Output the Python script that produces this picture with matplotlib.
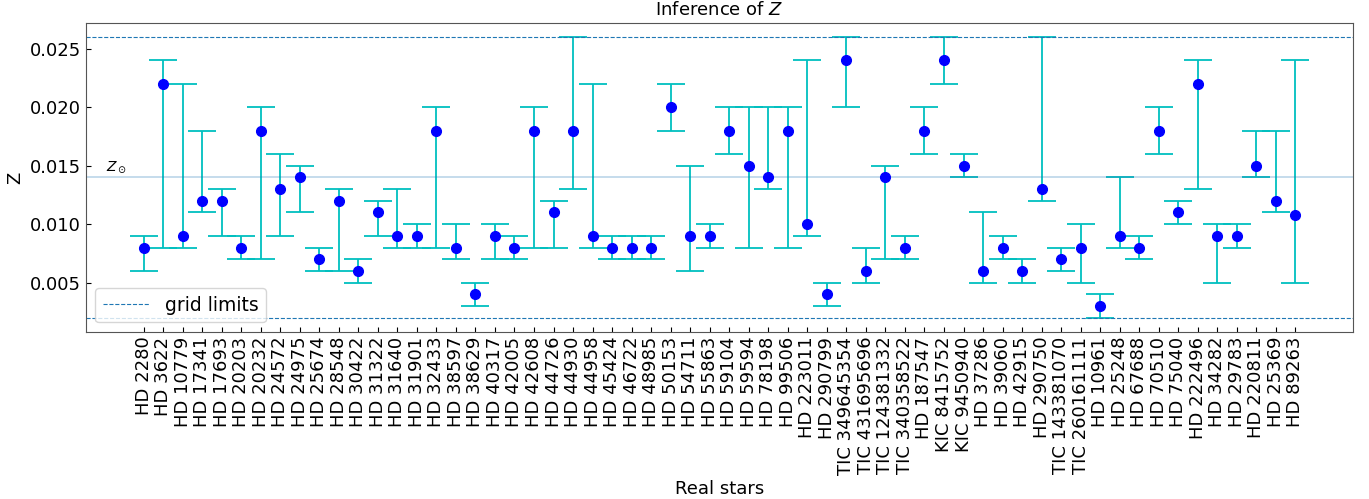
import matplotlib
matplotlib.use('Agg')
import matplotlib.pyplot as plt
import numpy as np

'''
inference of Z for the real stars, with grid limits and solar value
'''

stars = ['HD 2280', 'HD 3622', 'HD 10779', 'HD 17341', 'HD 17693', 'HD 20203',
         'HD 20232', 'HD 24572', 'HD 24975', 'HD 25674', 'HD 28548', 'HD 30422',
         'HD 31322', 'HD 31640', 'HD 31901', 'HD 32433', 'HD 38597', 'HD 38629',
         'HD 40317', 'HD 42005', 'HD 42608', 'HD 44726', 'HD 44930', 'HD 44958',
         'HD 45424', 'HD 46722', 'HD 48985', 'HD 50153', 'HD 54711', 'HD 55863',
         'HD 59104', 'HD 59594', 'HD 78198', 'HD 99506', 'HD 223011', 'HD 290799',
         'TIC 349645354', 'TIC 431695696', 'TIC 124381332', 'TIC 340358522',
         'HD 187547', 'KIC 8415752', 'KIC 9450940', 'HD 37286', 'HD 39060',
         'HD 42915', 'HD 290750', 'TIC 143381070', 'TIC 260161111', 'HD 10961',
         'HD 25248', 'HD 67688', 'HD 70510', 'HD 75040', 'HD 222496', 'HD 34282',
         'HD 29783', 'HD 220811', 'HD 25369', 'HD 89263']

z_best = [0.008, 0.022, 0.009, 0.012, 0.012, 0.008, 0.018, 0.013, 0.014, 0.007,
          0.012, 0.006, 0.011, 0.009, 0.009, 0.018, 0.008, 0.004, 0.009, 0.008,
          0.018, 0.011, 0.018, 0.009, 0.008, 0.008, 0.008, 0.020, 0.009, 0.009,
          0.018, 0.015, 0.014, 0.018, 0.010, 0.004, 0.024, 0.006, 0.014, 0.008,
          0.018, 0.024, 0.015, 0.006, 0.008, 0.006, 0.013, 0.007, 0.008, 0.003,
          0.009, 0.008, 0.018, 0.011, 0.022, 0.009, 0.009, 0.015, 0.012, 0.0108]

z_low = [0.006, 0.008, 0.008, 0.011, 0.009, 0.007, 0.007, 0.009, 0.011, 0.006,
         0.006, 0.005, 0.009, 0.008, 0.008, 0.008, 0.007, 0.003, 0.007, 0.007,
         0.008, 0.008, 0.013, 0.008, 0.007, 0.007, 0.007, 0.018, 0.006, 0.008,
         0.016, 0.008, 0.013, 0.008, 0.009, 0.003, 0.020, 0.005, 0.007, 0.007,
         0.016, 0.022, 0.014, 0.005, 0.007, 0.005, 0.012, 0.006, 0.005, 0.002,
         0.008, 0.007, 0.016, 0.010, 0.013, 0.005, 0.008, 0.014, 0.011, 0.005]

z_high = [0.009, 0.024, 0.022, 0.018, 0.013, 0.009, 0.020, 0.016, 0.015, 0.008,
          0.013, 0.007, 0.012, 0.013, 0.010, 0.020, 0.010, 0.005, 0.010, 0.009,
          0.020, 0.012, 0.026, 0.022, 0.009, 0.009, 0.009, 0.022, 0.015, 0.010,
          0.020, 0.020, 0.020, 0.020, 0.024, 0.005, 0.026, 0.008, 0.015, 0.009,
          0.020, 0.026, 0.016, 0.011, 0.009, 0.007, 0.026, 0.008, 0.010, 0.004,
          0.014, 0.009, 0.020, 0.012, 0.024, 0.010, 0.010, 0.018, 0.018, 0.024]

grid_limits = [0.002, 0.026]
z_sun = 0.014

plt.rcParams['font.size'] = 13

fig = plt.figure(figsize=(13.69, 4.99), dpi=100)
ax = fig.add_axes([0.0628, 0.335, 0.9255, 0.619])

x = np.arange(len(stars))
best = np.array(z_best)
yerr = [best - np.array(z_low), np.array(z_high) - best]

ax.errorbar(x, best, yerr=yerr, fmt='o', color='blue', ecolor='c',
            markersize=7, elinewidth=1.3, capsize=10, capthick=1.3)

ax.axhline(grid_limits[0], color='tab:blue', ls='--', lw=0.8, label='grid limits')
ax.axhline(grid_limits[1], color='tab:blue', ls='--', lw=0.8)
ax.axhline(z_sun, color='tab:blue', alpha=0.3, lw=1.2)
ax.text(-1.9, z_sun + 0.0002, r'$Z_\odot$', fontsize=10, va='bottom')

ax.set_xlim(-2.95, 61.95)
ax.set_ylim(0.0008, 0.0272)
ax.set_xticks(x)
ax.set_xticklabels(stars, rotation=90)
ax.set_yticks([0.005, 0.010, 0.015, 0.020, 0.025])
ax.tick_params(direction='in')
for spine in ax.spines.values():
  spine.set_color('#555555')

ax.set_xlabel('Real stars')
ax.set_ylabel('Z')
ax.set_title('Inference of $Z$', fontsize=13)
ax.legend(loc='lower left', fontsize=13.5, handlelength=2.5)

plt.savefig('out.png')
